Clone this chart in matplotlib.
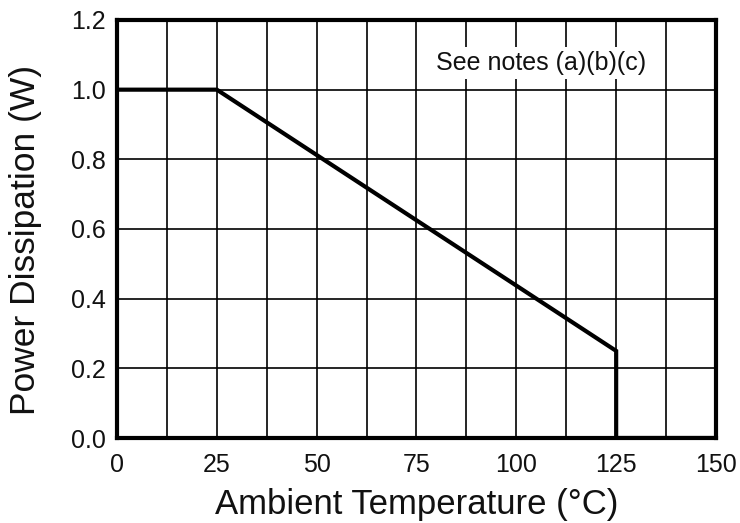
import matplotlib
matplotlib.use("Agg")
import matplotlib.pyplot as plt
import numpy as np

temps = [0, 25, 125, 125, 150]
power = [1.0, 1.0, 0.25, 0.0, 0.0]
xticks = [0, 25, 50, 75, 100, 125, 150]
yticks = [0.0, 0.2, 0.4, 0.6, 0.8, 1.0, 1.2]
note = "See notes (a)(b)(c)"

plt.rcParams['font.family'] = ['Liberation Sans', 'DejaVu Sans']
fig = plt.figure(figsize=(7.4, 5.23), dpi=100)
ax = fig.add_axes([117/740, 1-438/523, (716-117)/740, (438-20)/523])
ax.set_xlim(0, 150)
ax.set_ylim(0, 1.2)
ax.set_xticks(xticks)
ax.set_yticks(yticks)
ax.set_xticklabels([str(t) for t in xticks])
ax.set_yticklabels([f"{t:.1f}" for t in yticks])
ax.set_xticks(np.arange(0, 150.1, 12.5), minor=True)
ax.grid(True, which='both', axis='x', color='black', lw=1.2)
ax.grid(True, which='major', axis='y', color='black', lw=1.2)
ax.tick_params(which='both', length=0, labelsize=18, colors='#111111')
ax.tick_params(axis='x', pad=11)
ax.tick_params(axis='y', pad=8)
for s in ax.spines.values():
    s.set_linewidth(3)
    s.set_zorder(5)
ax.plot(temps, power, color='black', lw=3, zorder=4, solid_joinstyle='miter')
ax.text(0.708, 0.897, note, transform=ax.transAxes, ha='center', va='center',
        fontsize=18, color='#111111', zorder=6,
        bbox=dict(facecolor='white', edgecolor='none', pad=3))
ax.set_xlabel("Ambient Temperature (°C)", fontsize=25, color='#111111', labelpad=8)
ax.set_ylabel("Power Dissipation (W)", fontsize=25.5, color='#111111')
ax.yaxis.set_label_coords(-0.125, 0.475)
fig.savefig("out.png", dpi=100)
